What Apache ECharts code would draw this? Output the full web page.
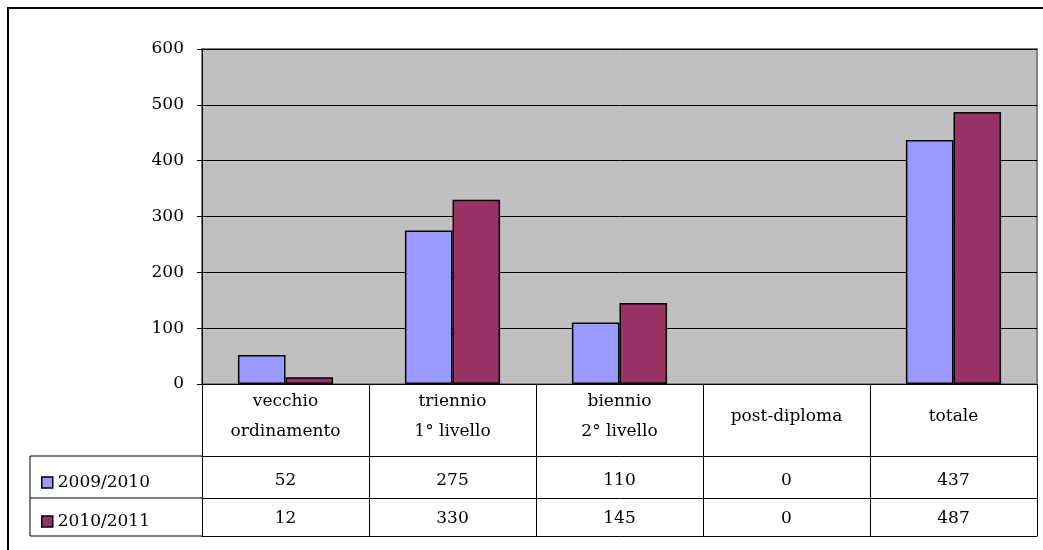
<!DOCTYPE html>
<html>
<head>
<meta charset="utf-8">
<script src="https://cdn.jsdelivr.net/npm/echarts@6/dist/echarts.min.js"></script>
<style>
  html, body { margin: 0; padding: 0; background: #fff; }
  #main { width: 1043px; height: 550px; }
</style>
</head>
<body>
<div id="main"></div>
<script>
// data
var categories = ['vecchio\nordinamento', 'triennio\n1° livello', 'biennio\n2° livello', 'post-diploma', 'totale']
var seriesNames = ['2009/2010', '2010/2011']
var values2009 = [52, 275, 110, 0, 437]
var values2010 = [12, 330, 145, 0, 487]
var yTicks = [0, 100, 200, 300, 400, 500, 600]

var FONT = 'DejaVu Serif'
var FS = 17
var colors = ['#9999FF', '#993366']

// layout: plot area and the data table under it
var plotLeft = 202, plotRight = 1037, plotTop = 49, plotBottom = 384
var row1 = 72, row2 = 114, row3 = 152   // offsets of table row lines below the axis
var legendLeft = 30

var myChart = echarts.init(document.getElementById('main'))

function tableAxis(data, offset, margin) {
  return {
    type: 'category',
    position: 'bottom',
    offset: offset,
    data: data,
    axisLine: { show: true, lineStyle: { color: '#000', width: 1 } },
    axisTick: { show: false },
    axisLabel: { interval: 0, margin: margin, verticalAlign: 'middle',
      fontFamily: FONT, fontSize: FS, color: '#000' },
    splitLine: { show: false }
  }
}

// zero-height bars are not drawn in the original, so drop their outline
function barData(values) {
  return values.map(function (v) {
    return v === 0 ? { value: v, itemStyle: { borderWidth: 0 } } : v
  })
}

function legendFor(name, top) {
  return {
    data: [name], left: legendLeft + 6, top: top, itemWidth: 11, itemHeight: 11,
    icon: 'rect', itemGap: 0, itemStyle: { borderColor: '#000', borderWidth: 1.5 },
    textStyle: { fontFamily: FONT, fontSize: FS, color: '#000' }
  }
}

var option = {
  animation: false,
  backgroundColor: '#fff',
  grid: {
    left: plotLeft, right: 1043 - plotRight, top: plotTop, bottom: 550 - plotBottom,
    show: true, backgroundColor: '#C0C0C0', borderColor: '#808080', borderWidth: 2
  },
  legend: [legendFor(seriesNames[0], 469), legendFor(seriesNames[1], 508)],
  xAxis: [
    {
      type: 'category',
      data: categories,
      axisLine: { show: true, lineStyle: { color: '#000', width: 1 } },
      axisTick: { show: true, interval: 0, length: row3, lineStyle: { color: '#000', width: 1 } },
      axisLabel: { interval: 0, margin: 33, verticalAlign: 'middle', lineHeight: 30,
        fontFamily: FONT, fontSize: FS, color: '#000' },
      splitLine: { show: false }
    },
    tableAxis(values2009.map(String), row1, 25),
    tableAxis(values2010.map(String), row2, 21),
    tableAxis(values2010.map(function () { return '' }), row3, 10)
  ],
  yAxis: {
    type: 'value',
    min: yTicks[0],
    max: yTicks[yTicks.length - 1],
    interval: 100,
    axisLine: { show: true, lineStyle: { color: '#000', width: 1 } },
    axisTick: { show: true, length: 5, lineStyle: { color: '#000' } },
    axisLabel: { margin: 18, fontFamily: FONT, fontSize: FS, color: '#000' },
    splitLine: { show: true, lineStyle: { color: '#000', width: 1 } }
  },
  series: [
    {
      name: seriesNames[0], type: 'bar', data: barData(values2009),
      barGap: '0%', barCategoryGap: '43%',
      itemStyle: { color: colors[0], borderColor: '#000', borderWidth: 1.5 }
    },
    {
      name: seriesNames[1], type: 'bar', data: barData(values2010),
      barGap: '0%', barCategoryGap: '43%',
      itemStyle: { color: colors[1], borderColor: '#000', borderWidth: 1.5 }
    }
  ],
  graphic: [
    // outer chart frame
    { type: 'rect', shape: { x: 8, y: 8, width: 1100, height: 700 }, silent: true,
      style: { fill: 'none', stroke: '#000', lineWidth: 2 } },
    // legend cells of the data table
    { type: 'line', shape: { x1: legendLeft, y1: plotBottom + row1, x2: plotLeft, y2: plotBottom + row1 },
      style: { stroke: '#000', lineWidth: 1 } },
    { type: 'line', shape: { x1: legendLeft, y1: plotBottom + row2, x2: plotLeft, y2: plotBottom + row2 },
      style: { stroke: '#000', lineWidth: 1 } },
    { type: 'line', shape: { x1: legendLeft, y1: plotBottom + row3, x2: plotLeft, y2: plotBottom + row3 },
      style: { stroke: '#000', lineWidth: 1 } },
    { type: 'line', shape: { x1: legendLeft, y1: plotBottom + row1, x2: legendLeft, y2: plotBottom + row3 },
      style: { stroke: '#000', lineWidth: 1 } }
  ]
}

myChart.setOption(option)
</script>
</body>
</html>
